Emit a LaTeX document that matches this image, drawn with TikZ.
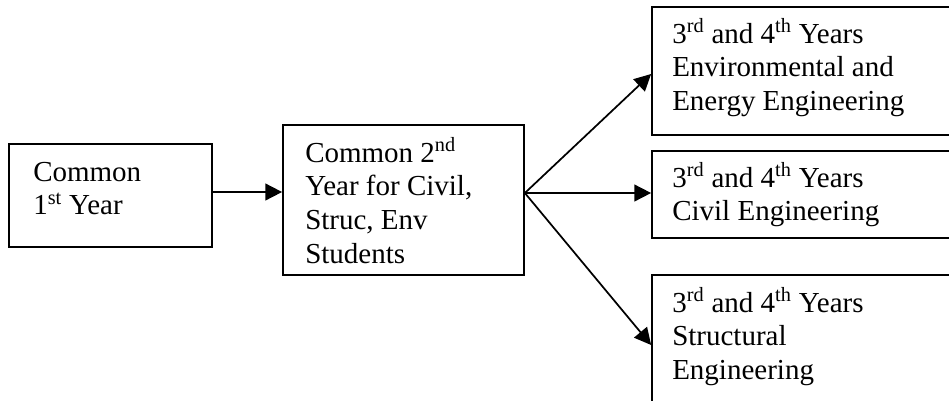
\documentclass[tikz,border=0pt]{standalone}
\usepackage{fontspec}
\setmainfont{Liberation Serif}
\usetikzlibrary{arrows.meta,fit}
\begin{document}
\begin{tikzpicture}[x=0.75pt,y=-0.75pt,
  box/.style={draw, line width=1.3pt, inner sep=0pt},
  lbl/.style={anchor=base west, inner sep=0pt, font=\fontsize{21.75}{25.3}\selectfont},
  conn/.style={line width=1.3pt, -{Triangle[length=12.5pt,width=12.5pt]}}]
\useasboundingbox (0,0) rectangle (949,400);
\clip (0,0) rectangle (949,400);
% boxes
\node[box, fit={(9,144) (212,247)}] (b1) {};
\node[box, fit={(283,125) (524,275)}] (b2) {};
\node[box, fit={(652,7) (970,135)}] (b3) {};
\node[box, fit={(652,151) (970,238)}] (b4) {};
\node[box, fit={(652,275) (970,420)}] (b5) {};
% texts
\node[lbl] (t1) at (33,181) {\begin{tabular}[t]{@{}l@{}}Common\\1\textsuperscript{st} Year\end{tabular}};
\node[lbl] (t2) at (305,162) {\begin{tabular}[t]{@{}l@{}}Common 2\textsuperscript{nd}\\Year for Civil,\\Struc, Env\\Students\end{tabular}};
\node[lbl] (t3) at (672,43) {\begin{tabular}[t]{@{}l@{}}3\textsuperscript{rd} and 4\textsuperscript{th} Years\\Environmental and\\Energy Engineering\end{tabular}};
\node[lbl] (t4) at (672,187) {\begin{tabular}[t]{@{}l@{}}3\textsuperscript{rd} and 4\textsuperscript{th} Years\\Civil Engineering\end{tabular}};
\node[lbl] (t5) at (672,312) {\begin{tabular}[t]{@{}l@{}}3\textsuperscript{rd} and 4\textsuperscript{th} Years\\Structural\\Engineering\end{tabular}};
% connectors
\coordinate (s1) at (b1.east |- 0,192);
\coordinate (e1) at (b2.west |- 0,192);
\coordinate (j) at (b2.east |- 0,193);
\coordinate (e3) at (b3.west |- 0,74);
\coordinate (e4) at (b4.west |- 0,193);
\coordinate (e5) at (b5.west |- 0,345);
\draw[conn] (s1) -- (e1);
\draw[conn] (j) -- (e3);
\draw[conn] (j) -- (e4);
\draw[conn] (j) -- (e5);
\end{tikzpicture}
\end{document}
